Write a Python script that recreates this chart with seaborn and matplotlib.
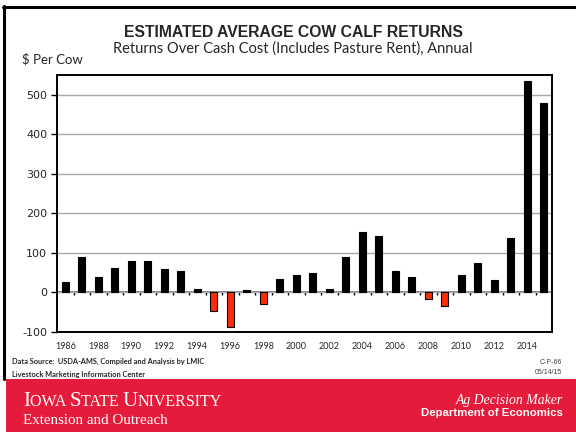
import numpy as np
import pandas as pd
import matplotlib
matplotlib.use("Agg")
import matplotlib.pyplot as plt
from matplotlib.patches import Rectangle
from matplotlib.lines import Line2D
import seaborn as sns

years = list(range(1986, 2016))
returns = [27, 89, 40, 62, 80, 80, 60, 54, 8, -47,
           -88, 6, -29, 34, 43, 49, 10, 89, 153, 144,
           54, 40, -17, -34, 44, 74, 32, 139, 535, 479]
yticks = [-100, 0, 100, 200, 300, 400, 500]
xlabel_years = years[::2]

df = pd.DataFrame({"year": years, "ret": returns})
df["sign"] = np.where(df["ret"] < 0, "neg", "pos")

sns.set_style("white")
plt.rcParams["font.family"] = ["DejaVu Sans"]

W, H = 576, 432
fig = plt.figure(figsize=(W / 100, H / 100), dpi=100)


def fx(x):
    return x / W


def fy(y):
    return 1 - y / H


# plot area in pixels: x 57..552, y 75..332
ax = fig.add_axes([fx(57), fy(332), (552 - 57) / W, (332 - 75) / H])

sns.barplot(data=df, x="year", y="ret", hue="sign", order=years,
            palette={"pos": "black", "neg": "#ff2b06"}, dodge=False,
            saturation=1, width=0.42, edgecolor="black", linewidth=0.8,
            legend=False, ax=ax)

ymin, ymax = -100, 550
ax.set_ylim(ymin, ymax)
ax.set_xlim(-0.5, len(years) - 0.5)
ax.set_xlabel("")
ax.set_ylabel("")

ax.set_yticks(yticks)
ax.set_yticklabels([str(v) for v in yticks], fontsize=8, family="DejaVu Sans")
ax.tick_params(axis="y", direction="out", length=4, width=1, color="black",
               left=True, pad=3)
ax.yaxis.grid(True, color="#a8a8a8", lw=1)
ax.set_axisbelow(True)

ax.set_xticks([years.index(y) for y in xlabel_years])
ax.set_xticklabels([str(y) for y in xlabel_years], fontsize=6.5, family="Lato")
ax.tick_params(axis="x", length=0, pad=7)

for s in ax.spines.values():
    s.set_visible(True)
    s.set_color("black")
    s.set_linewidth(1.4)

# category axis crossing at zero, ticks between bars
sec = ax.secondary_xaxis((0 - ymin) / (ymax - ymin))
sec.set_xticks(np.arange(0.5, len(years) - 1, 1))
sec.set_xticklabels([])
sec.tick_params(direction="out", length=2.5, width=1, color="black")
sec.spines["bottom"].set_color("#707070")
sec.spines["bottom"].set_linewidth(1.2)

# titles
fig.text(fx(293.5), fy(32.5), "ESTIMATED AVERAGE COW CALF RETURNS",
         ha="center", va="center", fontsize=11.3, fontweight="bold",
         family="Liberation Sans")
fig.text(fx(292.5), fy(49), "Returns Over Cash Cost (Includes Pasture Rent), Annual",
         ha="center", va="center", fontsize=10.5, family="Lato")
fig.text(fx(22), fy(59), "$ Per Cow", ha="left", va="center",
         fontsize=9.5, family="Lato")

# footnotes
fig.text(fx(12), fy(361), "Data Source:  USDA-AMS, Compiled and Analysis by LMIC",
         ha="left", va="center", fontsize=5.3, fontweight="bold", family="Lato")
fig.text(fx(12), fy(374.5), "Livestock Marketing Information Center",
         ha="left", va="center", fontsize=5.3, fontweight="bold", family="Lato")
fig.text(fx(562), fy(362), "C-P-66", ha="right", va="center",
         fontsize=5, color="#404040", family="Liberation Sans")
fig.text(fx(562), fy(373), "05/14/15", ha="right", va="center",
         fontsize=5, color="#404040", family="Liberation Sans")

# outer slide frame
fig.add_artist(Line2D([fx(4), fx(4)], [fy(6), fy(379)], color="black", lw=2.2,
                      transform=fig.transFigure))
fig.add_artist(Line2D([fx(3), fx(576)], [fy(7), fy(7)], color="black", lw=2.2,
                      transform=fig.transFigure))

# red banner (behind the banner texts)
fig.add_artist(Rectangle((fx(6), 0), 1, (H - 379) / H, transform=fig.transFigure,
                         color="#e41b3a", lw=0, zorder=-1))

# small caps university name
pieces = [("I", 15), ("OWA ", 11.5), ("S", 15), ("TATE ", 11.5), ("U", 15), ("NIVERSITY", 11.5)]
t = ax.text(fx(23), fy(405.5), pieces[0][0], transform=fig.transFigure,
            ha="left", va="baseline", fontsize=pieces[0][1], color="white",
            family="Liberation Serif", clip_on=False)
for s, size in pieces[1:]:
    t = ax.annotate(s, xy=(1, 0), xycoords=t, ha="left", va="bottom",
                    fontsize=size, color="white", family="Liberation Serif",
                    annotation_clip=False)
fig.text(fx(23), fy(423.5), "Extension and Outreach", ha="left", va="baseline",
         fontsize=10.8, color="white", family="Liberation Serif")
fig.text(fx(563), fy(404), "Ag Decision Maker", ha="right", va="baseline",
         fontsize=9.9, style="italic", color="white", family="Liberation Serif")
fig.text(fx(563), fy(416), "Department of Economics", ha="right", va="baseline",
         fontsize=8.2, fontweight="bold", color="white", family="Liberation Sans")

fig.savefig("out.png", dpi=100)
